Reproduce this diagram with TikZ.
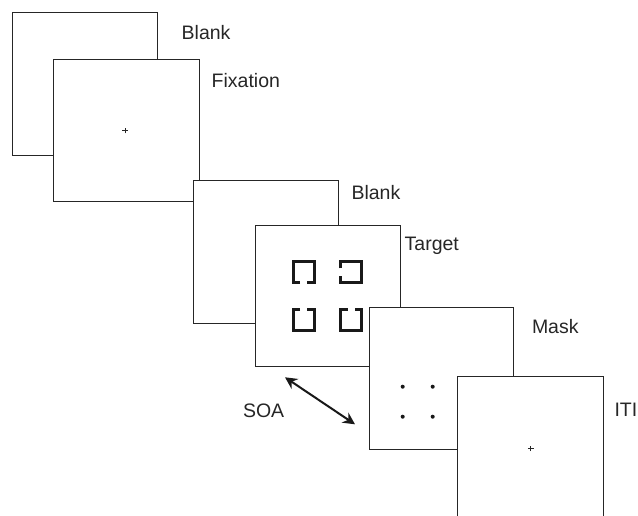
\documentclass[tikz,border=0pt]{standalone}
\usepackage{fontspec}
\setmainfont{Liberation Sans}
\usetikzlibrary{arrows.meta}
\begin{document}
\begin{tikzpicture}[x=1pt,y=-1pt,
  scr/.style={draw=black!85,line width=0.9pt,fill=white,minimum width=145pt,minimum height=143pt,anchor=north west,inner sep=0pt,outer sep=0pt},
  lbl/.style={anchor=base west,inner sep=0pt,font=\fontsize{19.5}{22}\selectfont,text=black!85},
  sym/.style={draw=black!90,line width=2.8pt,line cap=butt,line join=miter},
  crossmark/.style={draw=black!85,line width=0.8pt},
  gapbottom/.pic={\draw[sym] (-3.6,10.5) -- (-10.5,10.5) -- (-10.5,-10.5) -- (10.5,-10.5) -- (10.5,10.5) -- (3.6,10.5);},
  gaptop/.pic={\draw[sym] (-3.6,-10.5) -- (-10.5,-10.5) -- (-10.5,10.5) -- (10.5,10.5) -- (10.5,-10.5) -- (3.6,-10.5);},
  gapleft/.pic={\draw[sym] (-10.5,-3.8) -- (-10.5,-10.5) -- (10.5,-10.5) -- (10.5,10.5) -- (-10.5,10.5) -- (-10.5,3.8);}
]
\useasboundingbox (0,0) rectangle (638,516);
\clip (0,0) rectangle (638,516);
% screens
\node[scr,minimum width=145pt,minimum height=143pt] (b1) at (12.3,12.3) {};
\node[scr,minimum width=146pt,minimum height=142pt] (b2) at (53.3,59.3) {};
\node[scr,minimum width=145pt,minimum height=143pt] (b3) at (193.3,180) {};
\node[scr,minimum width=145pt,minimum height=141pt] (b4) at (255.7,225) {};
\node[scr,minimum width=144pt,minimum height=142pt] (b5) at (369.7,307.3) {};
\node[scr,minimum width=146pt,minimum height=143pt] (b6) at (457.7,376.3) {};
% fixation crosses
\coordinate (fx) at (125,130.7);
\draw[crossmark] ([xshift=-2.8pt]fx) -- ([xshift=2.8pt]fx) ([yshift=-2.8pt]fx) -- ([yshift=2.8pt]fx);
\coordinate (ix) at (530.7,448.3);
\draw[crossmark] ([xshift=-2.8pt]ix) -- ([xshift=2.8pt]ix) ([yshift=-2.8pt]ix) -- ([yshift=2.8pt]ix);
% target symbols
\pic at (303.7,272.2) {gapbottom};
\pic at (351.3,272.2) {gapleft};
\pic at (303.7,319.7) {gaptop};
\pic at (351.3,319.7) {gaptop};
% mask dots
\foreach \px/\py in {402.7/386.7,432.7/386.7,402.7/416.7,432.7/416.7}
  \fill[black!90] (\px,\py) circle (2pt);
% labels
\node[lbl] (l1) at (181.5,39.3) {Blank};
\node[lbl] (l2) at (211.5,87.3) {Fixation};
\node[lbl] (l3) at (351.3,199.3) {Blank};
\node[lbl] (l4) at (404.5,250.7) {Target};
\node[lbl] (l5) at (531.8,334) {Mask};
\node[lbl] (l6) at (614.3,416) {ITI};
\node[lbl] (l7) at (242.8,417.3) {SOA};
% SOA arrow
\coordinate (sa) at (285,377.3);
\coordinate (sb) at (355,424.3);
\draw[black!90,line width=2pt,{Stealth[length=12pt,width=12pt,inset=4pt]}-{Stealth[length=12pt,width=12pt,inset=4pt]}] (sa) -- (sb);
\end{tikzpicture}
\end{document}
